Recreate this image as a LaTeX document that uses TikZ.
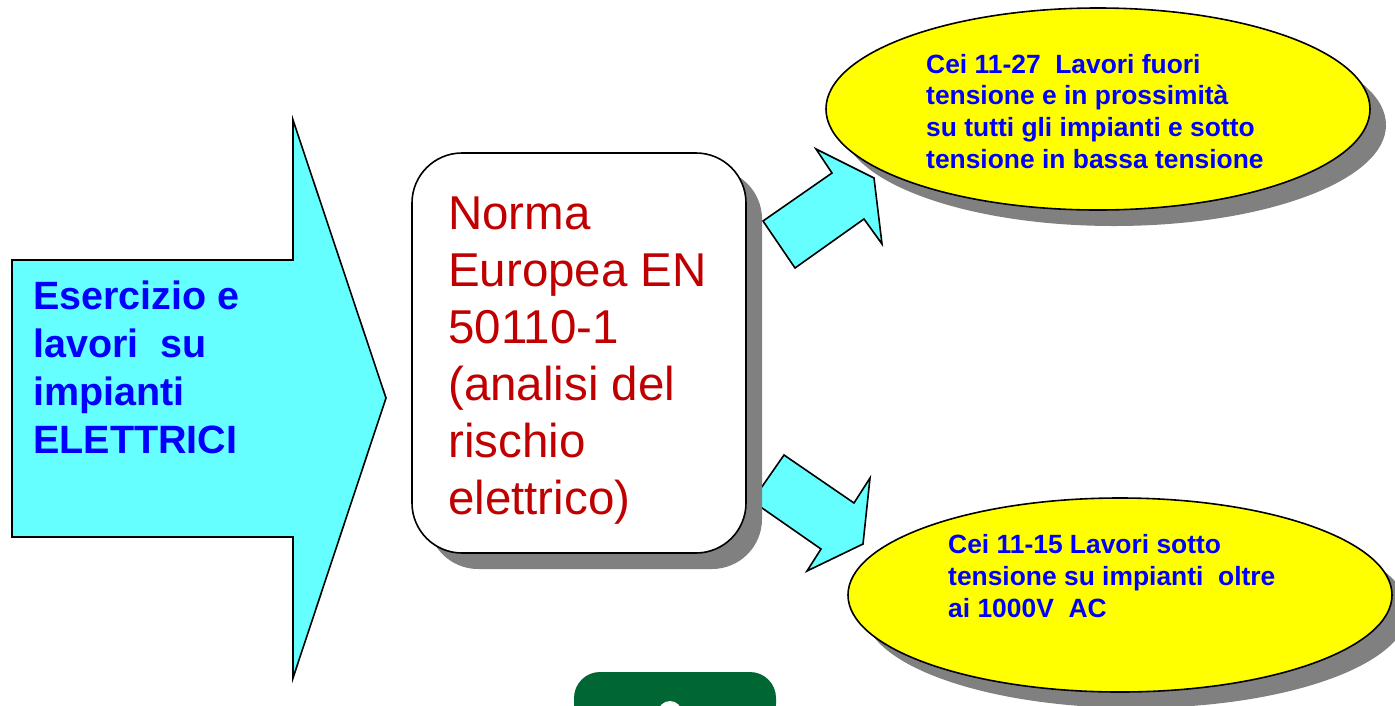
\documentclass[tikz,border=0pt]{standalone}
\usepackage{fontspec}
\setmainfont{Liberation Sans}
\usetikzlibrary{shapes, shadows, positioning}

\definecolor{arrowcyan}{HTML}{66FFFF}
\definecolor{bubbleyellow}{HTML}{FFFF00}
\definecolor{shadowgray}{HTML}{808080}
\definecolor{textblue}{HTML}{0000FF}
\definecolor{textred}{HTML}{C00000}
\definecolor{logogreen}{HTML}{006633}

\begin{document}
\begin{tikzpicture}[x=1pt, y=-1pt,
   block/.style={draw=black, line width=1.6pt, fill=arrowcyan, line join=miter},
   shade/.style={drop shadow={shadow xshift=16pt, shadow yshift=-16pt, fill=shadowgray, opacity=1}},
   bubble/.style={ellipse, draw=black, line width=1.6pt, fill=bubbleyellow, shade},
   bluetext/.style={anchor=base west, inner sep=0pt, align=left, text=textblue},
   small/.style={font={\fontsize{26.4}{31.6}\selectfont\bfseries}}]

   \useasboundingbox (0,0) rectangle (1395,705);

   % Arrows
      \draw[block] (12,260) -- (293,260) -- (293,120) -- (386,398) -- (293,678)
                   -- (293,537) -- (12,537) -- cycle;
      \draw[block] (763,221) -- (795,268) -- (864,219) -- (882,244) -- (874,178)
                   -- (816,149) -- (832,173) -- cycle;
      \draw[block] (752,501) -- (784,455) -- (854,503) -- (870,478) -- (863,544)
                   -- (807,571) -- (821,549) -- cycle;

   % Nodes
      \node[rectangle, rounded corners=50pt, draw=black, line width=1.6pt, fill=white, shade,
            minimum width=334pt, minimum height=400pt] (norma) at (579,353) {};
      \node[bubble, minimum width=544pt, minimum height=202pt] (cei27) at (1098,109) {};
      \node[bubble, minimum width=544pt, minimum height=194pt] (cei15) at (1120,595) {};

   % Texts (anchored on the last baseline)
      \node[bluetext, font={\fontsize{39.5}{48}\selectfont\bfseries}] (lavori) at (33,453)
           {Esercizio e\\lavori\ \ su\\impianti\\ELETTRICI};
      \node[anchor=base west, inner sep=0pt, align=left, text=textred,
            font={\fontsize{47.5}{57}\selectfont}] (normatext) at (448,514)
           {Norma\\Europea EN\\50110-1\\(analisi del\\rischio\\elettrico)};
      \node[bluetext, small] (cei27text) at (926,168)
           {Cei 11-27\ \ Lavori fuori\\tensione e in prossimità\\su tutti gli impianti e sotto\\tensione in bassa tensione};
      \node[bluetext, small] (cei15text) at (948,617)
           {Cei 11-15 Lavori sotto\\tensione su impianti\ \ oltre\\ai 1000V\ \ AC};

   % Logo
      \fill[logogreen, rounded corners=26pt] (574,730) -- (574,672) -- (776,672) -- (776,730) -- cycle;
      \fill[white] (670,713) circle (12);
\end{tikzpicture}
\end{document}
